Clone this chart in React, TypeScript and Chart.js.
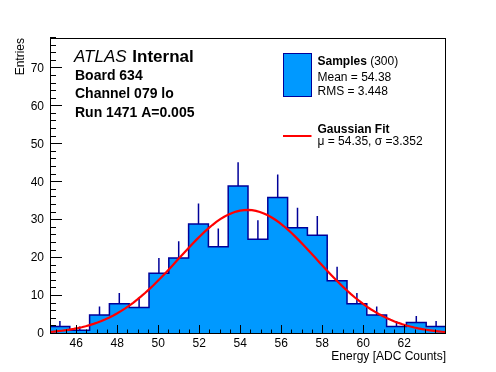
import React, { useEffect, useRef } from 'react';
import { Chart, registerables } from 'chart.js';

Chart.register(...registerables);

// ---- data ----
const histMin = 44.726;
const histMax = 64.034;
const binCounts = [2, 1, 5, 8, 7, 16, 20, 29, 23, 39, 25, 36, 28, 26, 14, 8, 5, 2, 3, 2];
const xTickValues = [46, 48, 50, 52, 54, 56, 58, 60, 62];
const yTickValues = [0, 10, 20, 30, 40, 50, 60, 70];
const yMax = 78;
const fitMean = 54.35;
const fitSigma = 3.352;
const fitAmplitude = 32.7;
const infoLines = ['Board 634', 'Channel 079 lo', 'Run 1471 A=0.005'];
const sampleStats = ['Mean = 54.38', 'RMS = 3.448'];
const fitText = '\u03bc = 54.35, \u03c3 =3.352';

const FONT = '"Liberation Sans", Arial, Helvetica, sans-serif';
const FILL = '#0099ff';
const EDGE = '#000099';

const binWidth = (histMax - histMin) / binCounts.length;

const histPoints = binCounts
  .map((c, i) => ({ x: histMin + i * binWidth, y: c }))
  .concat([{ x: histMax, y: binCounts[binCounts.length - 1] }]);

const errorPoints: { x: number; y: number | null }[] = [];
binCounts.forEach((c, i) => {
  const cx = histMin + (i + 0.5) * binWidth;
  errorPoints.push({ x: cx, y: c });
  errorPoints.push({ x: cx, y: c + Math.sqrt(c) });
  errorPoints.push({ x: cx, y: null });
});

const fitPoints: { x: number; y: number }[] = [];
for (let i = 0; i <= 100; i++) {
  const x = histMin + ((histMax - histMin) * i) / 100;
  const z = (x - fitMean) / fitSigma;
  fitPoints.push({ x, y: fitAmplitude * Math.exp(-0.5 * z * z) });
}

const decorPlugin = {
  id: 'rootDecor',
  afterDatasetsDraw(chart: any) {
    const { ctx, chartArea: a, scales } = chart;
    const xs = scales.x;
    const ys = scales.y;
    ctx.save();
    ctx.strokeStyle = '#000';
    ctx.lineWidth = 1;
    ctx.strokeRect(a.left + 0.5, a.top + 0.5, a.right - a.left - 1, a.bottom - a.top - 1);
    ctx.beginPath();
    // y ticks
    for (let v = 0; v <= yMax + 1e-6; v += 2) {
      const py = Math.round(ys.getPixelForValue(v)) - 0.5;
      const len = v % 10 === 0 ? 12 : 6;
      ctx.moveTo(a.left, py);
      ctx.lineTo(a.left + len, py);
    }
    // x ticks
    for (let v = 45; v <= histMax + 1e-6; v += 0.5) {
      const px = Math.round(xs.getPixelForValue(v)) + 0.5;
      const major = Math.abs(v / 2 - Math.round(v / 2)) < 1e-6;
      const len = major ? 9 : 4.5;
      ctx.moveTo(px, a.bottom);
      ctx.lineTo(px, a.bottom - len);
    }
    ctx.stroke();
    ctx.restore();
  },
  afterDraw(chart: any) {
    const { ctx } = chart;
    ctx.save();
    ctx.fillStyle = '#000';
    ctx.textBaseline = 'alphabetic';
    // axis titles
    ctx.font = `12px ${FONT}`;
    ctx.textAlign = 'right';
    ctx.fillText('Energy [ADC Counts]', 446, 359.5);
    ctx.save();
    ctx.translate(24, 38);
    ctx.rotate(-Math.PI / 2);
    ctx.fillText('Entries', 0, 0);
    ctx.restore();

    // ATLAS label
    ctx.textAlign = 'left';
    ctx.font = `italic 17px ${FONT}`;
    ctx.fillText('ATLAS', 74, 62);
    const w = ctx.measureText('ATLAS ').width;
    ctx.font = `bold 17px ${FONT}`;
    ctx.fillText('Internal', 74 + w + 1, 62);
    ctx.font = `bold 14px ${FONT}`;
    infoLines.forEach((t, i) => ctx.fillText(t, 75, 80 + i * 18.4));

    // legend
    ctx.fillStyle = FILL;
    ctx.fillRect(283.5, 53.5, 28, 43);
    ctx.strokeStyle = EDGE;
    ctx.lineWidth = 1;
    ctx.strokeRect(283.5, 53.5, 28, 43);
    ctx.fillStyle = '#000';
    ctx.font = `bold 12px ${FONT}`;
    ctx.fillText('Samples', 317.5, 65);
    const sw = ctx.measureText('Samples').width;
    ctx.font = `12px ${FONT}`;
    ctx.fillText(' (300)', 317.5 + sw, 65);
    ctx.fillText(sampleStats[0], 317.5, 80.5);
    ctx.fillText(sampleStats[1], 317.5, 94.5);

    ctx.strokeStyle = '#ff0000';
    ctx.lineWidth = 2;
    ctx.beginPath();
    ctx.moveTo(283, 136);
    ctx.lineTo(311.5, 136);
    ctx.stroke();
    ctx.font = `bold 12px ${FONT}`;
    ctx.fillText('Gaussian Fit', 317.5, 132.5);
    ctx.font = `12px ${FONT}`;
    ctx.fillText(fitText, 317.5, 145);
    ctx.restore();
  },
};

export default function App() {
  const ref = useRef<HTMLCanvasElement | null>(null);
  useEffect(() => {
    if (!ref.current) return;
    const chart = new Chart(ref.current, {
      type: 'line',
      data: {
        datasets: [
          {
            label: 'Gaussian Fit',
            data: fitPoints,
            borderColor: '#ff0000',
            borderWidth: 2.2,
            pointRadius: 0,
            fill: false,
            tension: 0,
          },
          {
            label: 'errors',
            data: errorPoints as any,
            borderColor: EDGE,
            borderWidth: 1.5,
            pointRadius: 0,
            fill: false,
            spanGaps: false,
          },
          {
            label: 'Samples',
            data: histPoints,
            borderColor: EDGE,
            backgroundColor: FILL,
            borderWidth: 1.5,
            pointRadius: 0,
            stepped: 'before',
            fill: 'origin',
          },
        ],
      },
      options: {
        animation: false,
        responsive: false,
        events: [],
        layout: { padding: { left: 0, top: 38, right: 50, bottom: 0 } },
        plugins: { legend: { display: false }, tooltip: { enabled: false } },
        scales: {
          x: {
            type: 'linear',
            min: histMin,
            max: histMax,
            grid: { display: false, drawTicks: false, tickLength: 0 },
            border: { display: false },
            ticks: { font: { size: 12, family: FONT }, color: '#000', padding: 2, maxRotation: 0, autoSkip: false },
            afterBuildTicks: (s: any) => {
              s.ticks = xTickValues.map((v) => ({ value: v }));
            },
            afterFit: (s: any) => {
              s.height = 38;
            },
          },
          y: {
            type: 'linear',
            min: 0,
            max: yMax,
            grid: { display: false, drawTicks: false, tickLength: 0 },
            border: { display: false },
            ticks: { font: { size: 12, family: FONT }, color: '#000', padding: 6, autoSkip: false },
            afterBuildTicks: (s: any) => {
              s.ticks = yTickValues.map((v) => ({ value: v }));
            },
            afterFit: (s: any) => {
              s.width = 50;
            },
          },
        },
      },
      plugins: [decorPlugin],
    });
    return () => chart.destroy();
  }, []);
  return (
    <div style={{ position: 'fixed', left: 0, top: 0, width: 496, height: 372, background: '#fff' }}>
      <canvas ref={ref} width={496} height={372} style={{ display: 'block', width: 496, height: 372 }} />
    </div>
  );
}
